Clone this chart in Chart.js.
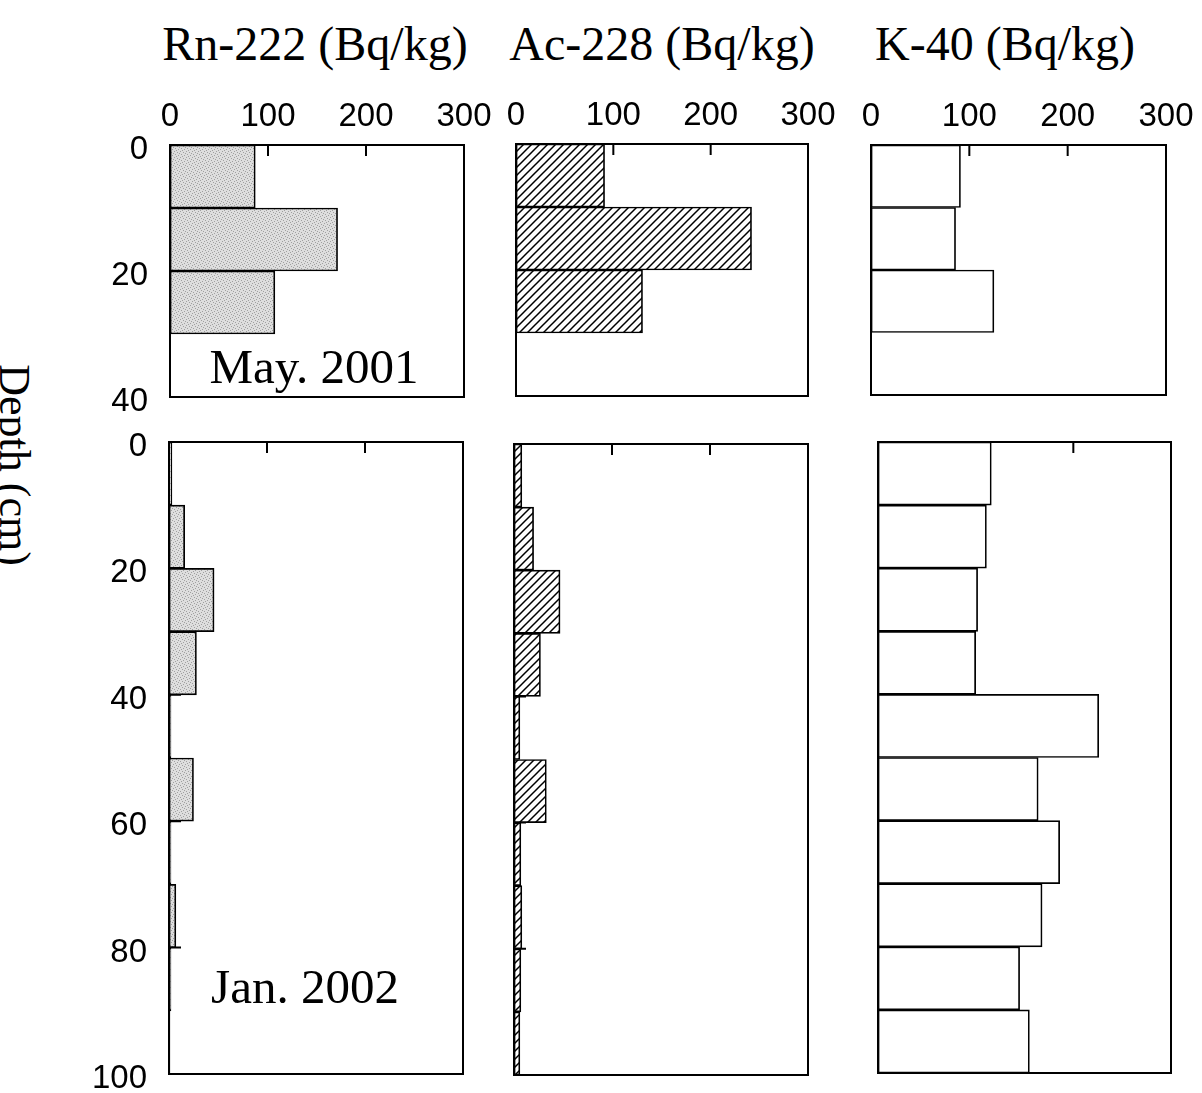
<!DOCTYPE html>
<html>
<head>
<meta charset="utf-8">
<script src="https://cdn.jsdelivr.net/npm/chart.js@4.4.1/dist/chart.umd.min.js"></script>
<style>
  body { margin: 0; background: #fff; width: 1202px; height: 1093px; position: relative; overflow: hidden; }
  canvas { position: absolute; }
  .serif { position: absolute; font-family: "Liberation Serif", "Times New Roman", serif; color: #000; line-height: 1; white-space: nowrap; }
  .title { font-size: 48px; transform: translateX(-50%); top: 20px; }
  .note { font-size: 49px; transform: translateX(-50%); }
  .ylabel { font-size: 44px; left: 14px; top: 465px; transform: translate(-50%, -50%) rotate(90deg); }
</style>
</head>
<body>
<div class="serif title" style="left:315px">Rn-222 (Bq/kg)</div>
<div class="serif title" style="left:662px">Ac-228 (Bq/kg)</div>
<div class="serif title" style="left:1005px">K-40 (Bq/kg)</div>
<div class="serif ylabel">Depth (cm)</div>

<canvas id="rnMay"></canvas>
<canvas id="acMay"></canvas>
<canvas id="kMay"></canvas>
<canvas id="rnJan"></canvas>
<canvas id="acJan"></canvas>
<canvas id="kJan"></canvas>

<div class="serif note" style="left:314px; top:342px">May. 2001</div>
<div class="serif note" style="left:305px; top:962px">Jan. 2002</div>

<script>
// Layer mid-depths (cm), 10 cm sampling layers
const depthMay = [5, 15, 25];
const depthJan = [5, 15, 25, 35, 45, 55, 65, 75, 85, 95];

// Activities (Bq/kg), May 2001
const rnMay = [87, 171, 107];
const acMay = [91, 242, 130];
const kMay = [91, 86, 125];

// Activities (Bq/kg), Jan 2002
const rnJan = [3, 16, 46, 28, 2, 25, 2, 7, 2, 1];
const acJan = [8, 20, 47, 27, 6, 33, 7, 8, 7, 6];
const kJan = [116, 111, 102, 100, 226, 164, 186, 168, 145, 155];

// Tick labels
const activityTicks = [0, 100, 200, 300];
const depthTicksMay = [0, 20, 40];
const depthTicksJan = [0, 20, 40, 60, 80, 100];

// fills
function stipplePattern() {
  const c = document.createElement("canvas");
  c.width = 6;
  c.height = 6;
  const g = c.getContext("2d");
  g.fillStyle = "#dedede";
  g.fillRect(0, 0, 6, 6);
  g.fillStyle = "#a0a0a0";
  [[0, 0], [3, 1], [1, 3], [4, 4], [5, 2], [2, 5]].forEach(([x, y]) => g.fillRect(x, y, 1, 1));
  return g.createPattern(c, "repeat");
}

function hatchPattern() {
  const c = document.createElement("canvas");
  c.width = 8;
  c.height = 8;
  const g = c.getContext("2d");
  g.fillStyle = "#fff";
  g.fillRect(0, 0, 8, 8);
  g.strokeStyle = "#000";
  g.lineWidth = 1.5;
  g.beginPath();
  g.moveTo(0, 8); g.lineTo(8, 0);
  g.moveTo(-4, 4); g.lineTo(4, -4);
  g.moveTo(4, 12); g.lineTo(12, 4);
  g.stroke();
  return g.createPattern(c, "repeat");
}

// Box round the plot area, and short inward ticks
const frame = {
  id: "frame",
  beforeDatasetsDraw(chart) {
    const { ctx, chartArea: a, scales: { x, y } } = chart;
    ctx.save();
    ctx.strokeStyle = "#000";
    ctx.lineWidth = 2;
    ctx.beginPath();
    x.ticks.forEach(t => {
      if (t.value > x.min && t.value < x.max) {
        const px = x.getPixelForValue(t.value);
        ctx.moveTo(px, a.top);
        ctx.lineTo(px, a.top + 11);
      }
    });
    y.ticks.forEach(t => {
      if (t.value > y.min && t.value < y.max) {
        const py = y.getPixelForValue(t.value);
        ctx.moveTo(a.left, py);
        ctx.lineTo(a.left + 12, py);
      }
    });
    ctx.stroke();
    ctx.restore();
  },
  afterDatasetsDraw(chart) {
    const { ctx, chartArea: a } = chart;
    ctx.save();
    ctx.strokeStyle = "#000";
    ctx.lineWidth = 2;
    ctx.strokeRect(a.left, a.top, a.right - a.left, a.bottom - a.top);
    ctx.restore();
  }
};

function makePanel(id, box, depth, values, fill, depthTicks, showX, showY) {
  const padL = showY ? 110 : 20;
  const padT = showX ? 60 : 20;
  const padR = 35;
  const padB = 25;
  const canvas = document.getElementById(id);
  canvas.width = box.r - box.l + padL + padR;
  canvas.height = box.b - box.t + padT + padB;
  canvas.style.left = (box.l - padL) + "px";
  canvas.style.top = (box.t - padT) + "px";

  return new Chart(canvas, {
    type: "bar",
    data: {
      datasets: [{
        data: values.map((v, i) => ({ x: v, y: depth[i] })),
        backgroundColor: fill,
        borderColor: "#000",
        borderWidth: 1.7,
        borderSkipped: false,
        barPercentage: 1,
        categoryPercentage: 1
      }]
    },
    options: {
      indexAxis: "y",
      responsive: false,
      animation: false,
      layout: { padding: { left: 0, top: 0, right: padR, bottom: padB } },
      plugins: { legend: { display: false }, tooltip: { enabled: false } },
      scales: {
        x: {
          type: "linear",
          position: "top",
          min: activityTicks[0],
          max: activityTicks[activityTicks.length - 1],
          grid: { display: false },
          border: { display: false },
          afterBuildTicks: s => { s.ticks = activityTicks.map(v => ({ value: v })); },
          ticks: {
            display: showX,
            maxRotation: 0,
            autoSkip: false,
            padding: 0,
            color: "#000",
            font: { family: "'Liberation Sans', Arial, sans-serif", size: 33 }
          },
          afterFit: s => { s.height = padT; s.paddingLeft = 0; s.paddingRight = 0; }
        },
        y: {
          type: "linear",
          reverse: true,
          offset: false,
          min: depthTicks[0],
          max: depthTicks[depthTicks.length - 1],
          grid: { display: false, offset: false },
          border: { display: false },
          afterBuildTicks: s => { s.ticks = depthTicks.map(v => ({ value: v })); },
          ticks: {
            display: showY,
            autoSkip: false,
            padding: 14,
            labelOffset: 5,
            color: "#000",
            font: { family: "'Liberation Sans', Arial, sans-serif", size: 33 }
          },
          afterFit: s => { s.width = padL; s.paddingTop = 0; s.paddingBottom = 0; }
        }
      }
    },
    plugins: [frame]
  });
}

const stipple = stipplePattern();
const hatch = hatchPattern();

makePanel("rnMay", { l: 170, t: 145, r: 464, b: 397 }, depthMay, rnMay, stipple, depthTicksMay, true, true);
makePanel("acMay", { l: 516, t: 144, r: 808, b: 396 }, depthMay, acMay, hatch, depthTicksMay, true, false);
makePanel("kMay", { l: 871, t: 145, r: 1166, b: 395 }, depthMay, kMay, "#fff", depthTicksMay, true, false);
makePanel("rnJan", { l: 169, t: 442, r: 463, b: 1074 }, depthJan, rnJan, stipple, depthTicksJan, false, true);
makePanel("acJan", { l: 514, t: 444, r: 808, b: 1075 }, depthJan, acJan, hatch, depthTicksJan, false, false);
makePanel("kJan", { l: 878, t: 442, r: 1171, b: 1073 }, depthJan, kJan, "#fff", depthTicksJan, false, false);
</script>
</body>
</html>
